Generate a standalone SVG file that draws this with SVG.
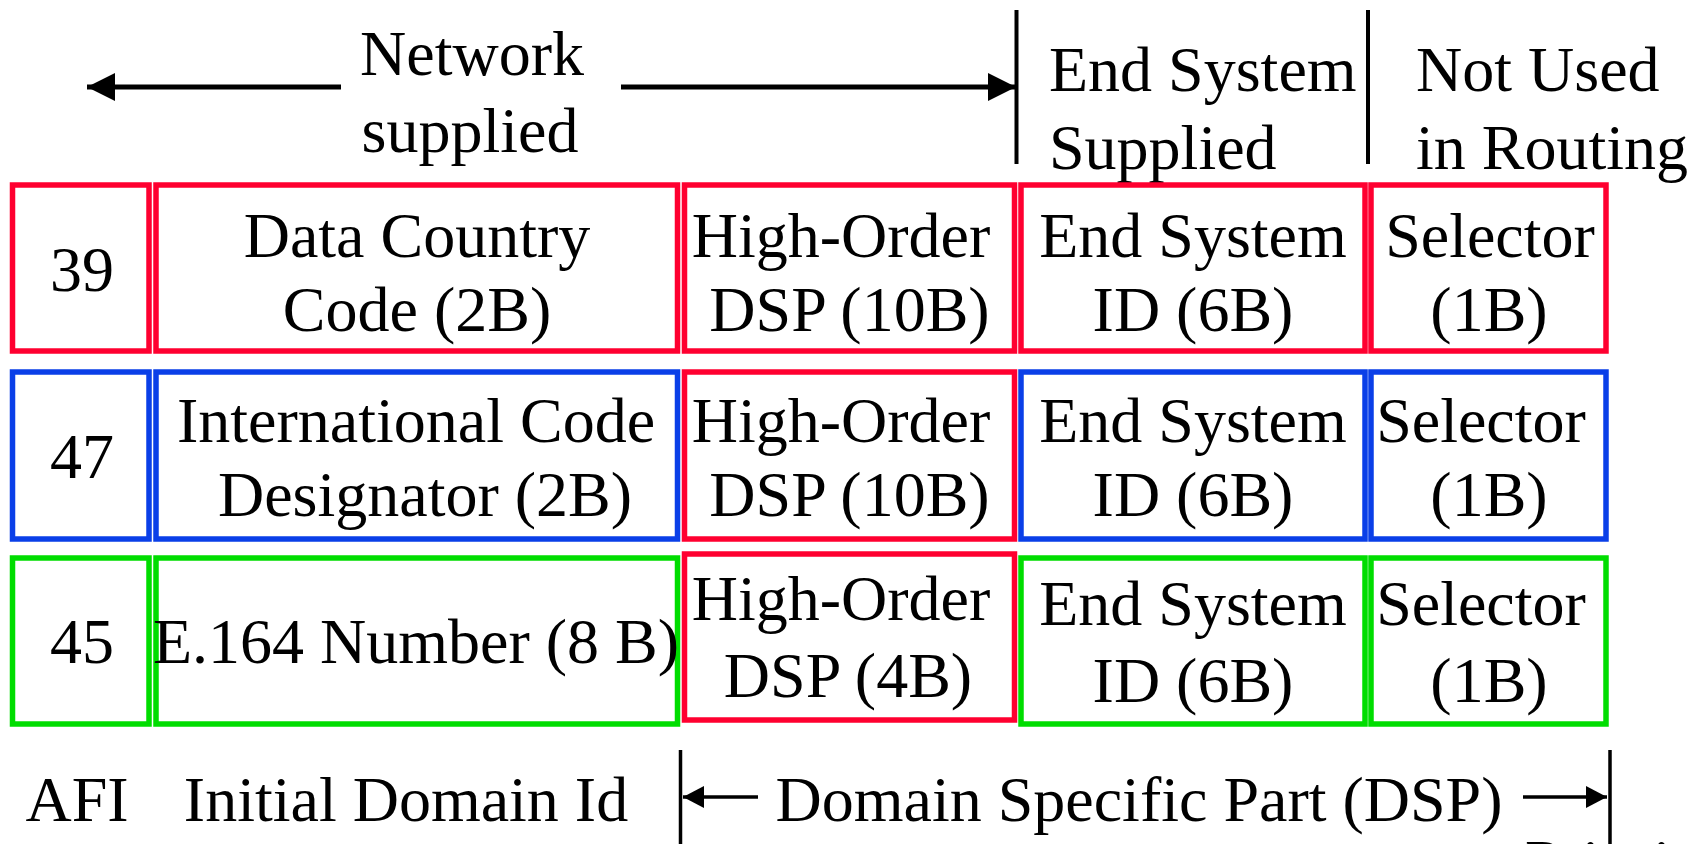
<svg xmlns="http://www.w3.org/2000/svg" width="1700" height="844" viewBox="0 0 1700 844" font-family="Liberation Serif, Times New Roman, DejaVu Serif, serif">
<style>
text{font-family:'Liberation Serif','Times New Roman','DejaVu Serif',serif;font-size:64px;fill:#000;font-weight:normal;}
.m{text-anchor:middle;}
.box{fill:#fff;stroke-width:5.5;}
.r{stroke:#FF0030;}
.b{stroke:#0A3FE8;}
.g{stroke:#00DD00;}
.ln{stroke:#000;fill:none;}
</style>
<defs>
<marker id="ah1" markerUnits="userSpaceOnUse" markerWidth="28" markerHeight="28" refX="28" refY="14" orient="auto">
<path d="M0,0 L28,14 L0,28 Z" fill="#000"/>
</marker>
<marker id="ah2" markerUnits="userSpaceOnUse" markerWidth="21" markerHeight="22" refX="21" refY="11" orient="auto">
<path d="M0,0 L21,11 L0,22 Z" fill="#000"/>
</marker>
</defs>
<rect width="1700" height="844" fill="#fff"/>

<g id="connectors">
<line class="ln" x1="341" y1="87" x2="87" y2="87" stroke-width="5" marker-end="url(#ah1)"/>
<line class="ln" x1="621" y1="87" x2="1016" y2="87" stroke-width="5" marker-end="url(#ah1)"/>
<line class="ln" x1="1016.5" y1="10" x2="1016.5" y2="164" stroke-width="4"/>
<line class="ln" x1="1368" y1="10" x2="1368" y2="164" stroke-width="4"/>
<line class="ln" x1="680.5" y1="750" x2="680.5" y2="844" stroke-width="3.5"/>
<line class="ln" x1="1610" y1="750" x2="1610" y2="844" stroke-width="3.5"/>
<line class="ln" x1="758" y1="797" x2="683" y2="797" stroke-width="3.5" marker-end="url(#ah2)"/>
<line class="ln" x1="1523" y1="797" x2="1607" y2="797" stroke-width="3.5" marker-end="url(#ah2)"/>
</g>

<g id="header-labels">
<text class="m" x="472" y="75">Network</text>
<text class="m" x="470" y="152">supplied</text>
<text x="1049" y="91">End System</text>
<text x="1049" y="169">Supplied</text>
<text x="1416" y="91">Not Used</text>
<text x="1416" y="169">in Routing</text>
</g>

<g id="row1-afi"><rect class="box r" x="12.5" y="185" width="136.5" height="166"/><text class="m" x="82" y="291">39</text></g>
<g id="row1-idi"><rect class="box r" x="156" y="185" width="521.5" height="166"/><text class="m" x="417" y="257">Data Country</text><text class="m" x="417" y="331">Code (2B)</text></g>
<g id="row1-hodsp"><rect class="box r" x="684.5" y="185" width="330" height="166"/><text class="m" x="841" y="257">High-Order</text><text class="m" x="849.5" y="331">DSP (10B)</text></g>
<g id="row1-esid"><rect class="box r" x="1021" y="185" width="344" height="166"/><text class="m" x="1193" y="257">End System</text><text class="m" x="1193" y="331">ID (6B)</text></g>
<g id="row1-sel"><rect class="box r" x="1371" y="185" width="235" height="166"/><text class="m" x="1490" y="257">Selector</text><text class="m" x="1489" y="331">(1B)</text></g>

<g id="row2-afi"><rect class="box b" x="12.5" y="372" width="136.5" height="167"/><text class="m" x="82" y="478">47</text></g>
<g id="row2-idi"><rect class="box b" x="156" y="372" width="521.5" height="167"/><text class="m" x="416" y="442">International Code</text><text class="m" x="425" y="516">Designator (2B)</text></g>
<g id="row2-hodsp"><rect class="box r" x="684.5" y="372" width="330" height="167"/><text class="m" x="841" y="442">High-Order</text><text class="m" x="849.5" y="516">DSP (10B)</text></g>
<g id="row2-esid"><rect class="box b" x="1021" y="372" width="344" height="167"/><text class="m" x="1193" y="442">End System</text><text class="m" x="1193" y="516">ID (6B)</text></g>
<g id="row2-sel"><rect class="box b" x="1371" y="372" width="235" height="167"/><text class="m" x="1481" y="442">Selector</text><text class="m" x="1489" y="516">(1B)</text></g>

<g id="row3-afi"><rect class="box g" x="12.5" y="558" width="136.5" height="166"/><text class="m" x="82" y="663">45</text></g>
<g id="row3-idi"><rect class="box g" x="156" y="558" width="521.5" height="166"/><text class="m" x="416" y="663">E.164 Number (8 B)</text></g>
<g id="row3-hodsp"><rect class="box r" x="684.5" y="554" width="330" height="166"/><text class="m" x="841" y="620">High-Order</text><text class="m" x="848" y="697">DSP (4B)</text></g>
<g id="row3-esid"><rect class="box g" x="1021" y="558" width="344" height="166"/><text class="m" x="1193" y="625">End System</text><text class="m" x="1193" y="702">ID (6B)</text></g>
<g id="row3-sel"><rect class="box g" x="1371" y="558" width="235" height="166"/><text class="m" x="1481" y="625">Selector</text><text class="m" x="1489" y="702">(1B)</text></g>

<g id="footer-labels">
<text class="m" x="77" y="821">AFI</text>
<text class="m" x="406" y="821">Initial Domain Id</text>
<text class="m" x="1139" y="821">Domain Specific Part (DSP)</text>
<text x="1525" y="884">Priority</text>
</g>
</svg>
